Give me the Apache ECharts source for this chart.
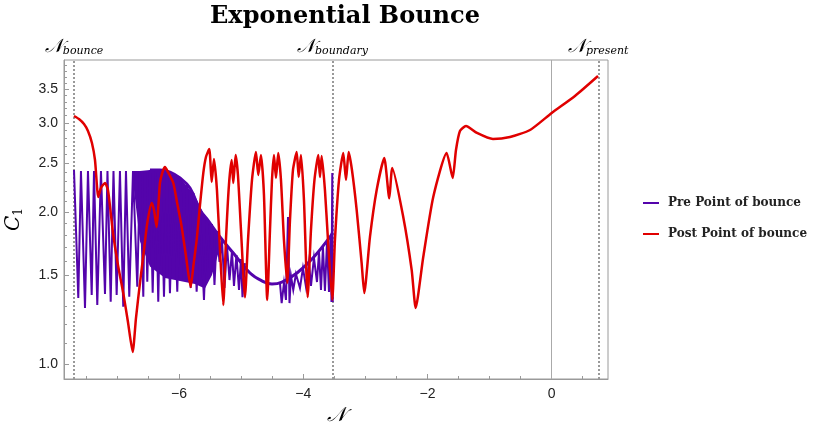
<!DOCTYPE html>
<html><head><meta charset="utf-8">
<script src="https://cdn.jsdelivr.net/npm/echarts@6/dist/echarts.min.js"></script>
<style>html,body{margin:0;padding:0;background:#fff}#c{width:817px;height:436px}</style>
</head><body><div id="c"></div>
<script>
// ---- data (x = N, value = C1) ----
const postPoint = [[-7.692,3.095],[-7.612,3.053],[-7.531,2.984],[-7.467,2.891],[-7.403,2.737],[-7.354,2.533],[-7.301,2.140],[-7.258,2.230],[-7.193,2.281],[-7.145,2.209],[-7.097,1.972],[-7.060,1.800],[-6.984,1.570],[-6.899,1.382],[-6.823,1.211],[-6.747,1.056],[-6.694,1.233],[-6.630,1.446],[-6.565,1.681],[-6.512,1.901],[-6.441,2.082],[-6.404,2.017],[-6.361,1.867],[-6.332,2.064],[-6.308,2.281],[-6.267,2.398],[-6.227,2.453],[-6.179,2.398],[-6.093,2.281],[-6.034,2.092],[-5.958,1.867],[-5.889,1.636],[-5.813,1.420],[-5.768,1.570],[-5.717,1.759],[-5.663,2.064],[-5.610,2.387],[-5.567,2.568],[-5.514,2.663],[-5.475,2.292],[-5.438,2.544],[-5.390,2.209],[-5.341,1.681],[-5.288,1.308],[-5.245,1.759],[-5.197,2.260],[-5.153,2.533],[-5.127,2.281],[-5.089,2.591],[-5.052,2.366],[-5.003,1.841],[-4.939,1.356],[-4.890,1.759],[-4.826,2.312],[-4.762,2.627],[-4.725,2.366],[-4.681,2.591],[-4.633,2.160],[-4.580,1.339],[-4.536,1.841],[-4.504,2.312],[-4.472,2.591],[-4.440,2.334],[-4.403,2.615],[-4.359,2.312],[-4.311,1.759],[-4.258,1.446],[-4.214,1.927],[-4.166,2.420],[-4.106,2.627],[-4.074,2.344],[-4.037,2.591],[-3.989,2.111],[-3.929,1.356],[-3.876,1.841],[-3.820,2.312],[-3.758,2.591],[-3.731,2.344],[-3.704,2.579],[-3.651,2.209],[-3.602,1.759],[-3.533,1.339],[-3.490,1.759],[-3.425,2.312],[-3.356,2.615],[-3.312,2.312],[-3.269,2.627],[-3.216,2.420],[-3.140,2.017],[-3.060,1.584],[-3.018,1.382],[-2.926,1.784],[-2.818,2.209],[-2.696,2.556],[-2.615,2.127],[-2.567,2.443],[-2.390,1.954],[-2.254,1.534],[-2.190,1.291],[-2.068,1.628],[-1.907,2.140],[-1.691,2.615],[-1.594,2.334],[-1.541,2.651],[-1.477,2.891],[-1.380,2.957],[-1.203,2.865],[-0.945,2.787],[-0.671,2.813],[-0.349,2.904],[0,3.138],[0.375,3.391],[0.746,3.714]];

const preSpikesA = [[-7.692,2.420],[-7.623,1.351],[-7.580,2.409],[-7.515,1.291],[-7.467,2.409],[-7.407,1.369],[-7.370,2.409],[-7.317,1.308],[-7.258,2.409],[-7.193,1.376],[-7.153,2.409],[-7.101,1.328],[-7.056,2.409],[-7.005,1.369],[-6.952,2.409],[-6.899,1.298],[-6.855,2.409],[-6.802,1.359],[-6.742,2.409],[-6.673,1.422],[-6.630,2.409],[-6.576,1.359],[-6.549,2.409],[-6.512,1.455],[-6.469,2.420],[-6.425,1.384],[-6.380,2.420],[-6.335,1.328],[-6.291,2.420],[-6.243,1.359],[-6.195,2.409],[-6.147,1.380],[-6.090,2.376],[-6.029,1.390],[-5.977,2.334],[-5.921,1.466],[-5.873,2.260],[-5.813,1.414],[-5.768,2.179],[-5.717,1.390],[-5.663,2.008],[-5.599,1.339],[-5.551,1.936],[-5.502,1.549],[-5.470,1.892],[-5.430,1.433],[-5.390,1.833],[-5.349,1.592],[-5.309,1.759],[-5.269,1.414],[-5.229,1.720],[-5.188,1.466],[-5.148,1.673],[-5.116,1.427],[-5.076,1.643],[-5.035,1.401],[-5.003,1.613],[-4.979,1.356],[-4.939,1.584]];

const preSpikesB = [[-4.375,1.446],[-4.348,1.320],[-4.311,1.446],[-4.279,1.339],[-4.246,1.954],[-4.222,1.320],[-4.198,1.493],[-4.161,1.401],[-4.118,1.507],[-4.053,1.414],[-4.005,1.549],[-3.956,1.420],[-3.908,1.592],[-3.876,1.427],[-3.828,1.621],[-3.779,1.453],[-3.747,1.666],[-3.715,1.401],[-3.683,1.704],[-3.651,1.395],[-3.618,1.743],[-3.586,1.388],[-3.562,1.784],[-3.546,1.326],[-3.533,2.387],[-3.525,1.326]];

const preEnvelope = [[-6.469,2.420],[-6.308,2.420],[-6.147,2.398],[-5.985,2.334],[-5.824,2.230],[-5.663,2.017],[-5.551,1.936],[-5.341,1.784],[-5.127,1.658],[-4.858,1.514],[-4.665,1.460],[-4.504,1.440],[-4.343,1.453],[-4.101,1.514],[-3.844,1.621],[-3.570,1.784],[-3.533,1.816]];

const preBandX     = [-6.742,-6.630,-6.469,-6.227,-5.985,-5.744,-5.583,-5.470,-5.341];
const preBandUpper = [2.409, 2.409, 2.420, 2.409, 2.334, 2.150, 1.960, 1.876, 1.784];
const preBandLower = [2.300, 1.750, 1.560, 1.480, 1.460, 1.440, 1.410, 1.500, 1.700];

const yTickLabels = [1.0,1.5,2.0,2.5,3.0,3.5];
const yMinorTicks = [1.1,1.2,1.3,1.4,1.6,1.7,1.8,1.9,2.1,2.2,2.3,2.4,2.6,2.7,2.8,2.9,3.1,3.2,3.3,3.4,3.6,3.7,3.8,3.9];
const xTickLabels = [-6,-4,-2,0];
const xMinorTicks = [-7.5,-7,-6.5,-5.5,-5,-4.5,-3.5,-3,-2.5,-1.5,-1,-0.5,0.5];
const markerX = [-7.692,-3.533,0.746];
const markerSub = ['bounce','boundary','present'];

// ---- chart ----
const PURPLE = '#5404ab', RED = '#e00000', FRAME = '#9a9a9a';
const L = v => Math.log(v);
const toLn = arr => arr.map(p => [p[0], L(p[1])]);
const yMin = L(0.934), yMax = L(3.995);
const xMin = -7.853, xMax = 0.907;

const chart = echarts.init(document.getElementById('c'), null, {renderer:'canvas'});
const nameRich = {
  n:{fontFamily:'DejaVu Serif', fontStyle:'italic', fontSize:19, color:'#000'},
  s:{fontFamily:'DejaVu Serif', fontStyle:'italic', fontSize:11, color:'#000', padding:[9,0,0,0]}
};
const markData = markerX.map((x,i)=>({xAxis:x, label:{formatter:'{n|𝒩}{s|'+markerSub[i]+'}'}}));

chart.setOption({
  animation:false,
  backgroundColor:'#fff',
  title:{text:'Exponential Bounce', left:340, top:0, textAlign:'center',
    textStyle:{fontFamily:'DejaVu Serif', fontWeight:'bold', fontSize:24, color:'#000'}},
  grid:{left:64, right:209, top:60, bottom:57, show:true, borderColor:FRAME, borderWidth:1, outerBoundsMode:'none', containLabel:false},
  legend:{orient:'vertical', left:638, top:192, itemGap:19, itemWidth:16, itemHeight:2, icon:'rect',
    data:['Pre Point of bounce','Post Point of bounce'],
    textStyle:{fontFamily:'DejaVu Serif', fontWeight:'bold', fontSize:12, color:'#222', padding:[0,0,0,4]}},
  xAxis:[
    {type:'value', min:xMin, max:xMax, position:'bottom',
     axisLine:{show:true, onZero:false, lineStyle:{color:FRAME}},
     axisTick:{show:true, inside:true, length:5, customValues:xTickLabels, lineStyle:{color:FRAME}},
     axisLabel:{customValues:xTickLabels, formatter:v=> v<0 ? '\u2212'+(-v) : String(v), color:'#222', fontSize:14, fontFamily:'Liberation Sans', margin:8},
     splitLine:{show:false},
     name:'𝒩', nameLocation:'middle', nameGap:22,
     nameTextStyle:{fontFamily:'DejaVu Serif', fontStyle:'italic', fontSize:20, color:'#000'}},
    {type:'value', min:xMin, max:xMax, position:'bottom', offset:0,
     axisLine:{show:false, onZero:false}, axisLabel:{show:false}, splitLine:{show:false},
     axisTick:{show:true, inside:true, length:3, customValues:xMinorTicks, lineStyle:{color:FRAME}}}
  ],
  yAxis:[
    {type:'value', min:yMin, max:yMax, position:'left',
     axisLine:{show:true, onZero:false, lineStyle:{color:FRAME}},
     axisTick:{show:true, inside:true, length:5, customValues:yTickLabels.map(L), lineStyle:{color:FRAME}},
     axisLabel:{customValues:yTickLabels.map(L), formatter:v=>Math.exp(v).toFixed(1), color:'#222', fontSize:14, fontFamily:'Liberation Sans', margin:6},
     splitLine:{show:false},
     name:'{c|C}{s|1}', nameLocation:'middle', nameGap:39, nameRotate:90,
     nameTextStyle:{rich:{
       c:{fontFamily:'DejaVu Serif', fontStyle:'italic', fontSize:20, color:'#000'},
       s:{fontFamily:'DejaVu Serif', fontSize:12, color:'#000', padding:[10,0,0,0]}}}},
    {type:'value', min:yMin, max:yMax, position:'left', offset:0,
     axisLine:{show:false, onZero:false}, axisLabel:{show:false}, splitLine:{show:false},
     axisTick:{show:true, inside:true, length:3, customValues:yMinorTicks.map(L), lineStyle:{color:FRAME}}}
  ],
  series:[
    {type:'custom', name:'preBand', xAxisIndex:0, yAxisIndex:0, silent:true, z:2,
     data:[[preBandX[0], L(preBandUpper[0])]],
     renderItem:(params, api)=>{
       const pts=[];
       for(let i=0;i<preBandX.length;i++) pts.push(api.coord([preBandX[i], L(preBandUpper[i])]));
       for(let i=preBandX.length-1;i>=0;i--) pts.push(api.coord([preBandX[i], L(preBandLower[i])]));
       return {type:'polygon', shape:{points:pts}, style:{fill:PURPLE}};
     }},
    {type:'line', name:'Pre Point of bounce', data:toLn(preSpikesA).concat([null]).concat(toLn(preSpikesB)),
     showSymbol:false, symbol:'none', connectNulls:false, z:3,
     lineStyle:{color:PURPLE, width:2, join:'miter'}, itemStyle:{color:PURPLE}},
    {type:'line', name:'preEnvelope', data:toLn(preEnvelope), smooth:0.4, showSymbol:false, symbol:'none', z:3,
     lineStyle:{color:PURPLE, width:3}, itemStyle:{color:PURPLE}},
    {type:'line', name:'Post Point of bounce', data:toLn(postPoint), smooth:0.2, showSymbol:false, symbol:'none', z:5,
     lineStyle:{color:RED, width:2.5, join:'round'}, itemStyle:{color:RED},
     markLine:{silent:true, symbol:'none', z:1,
       lineStyle:{color:'#999', width:2, type:[2,2]},
       label:{show:true, position:'end', distance:3, rich:nameRich},
       data:markData.concat([{xAxis:0, lineStyle:{color:'#aaa', width:1, type:'solid'}, label:{show:false}}])}}
  ]
});
</script></body></html>
